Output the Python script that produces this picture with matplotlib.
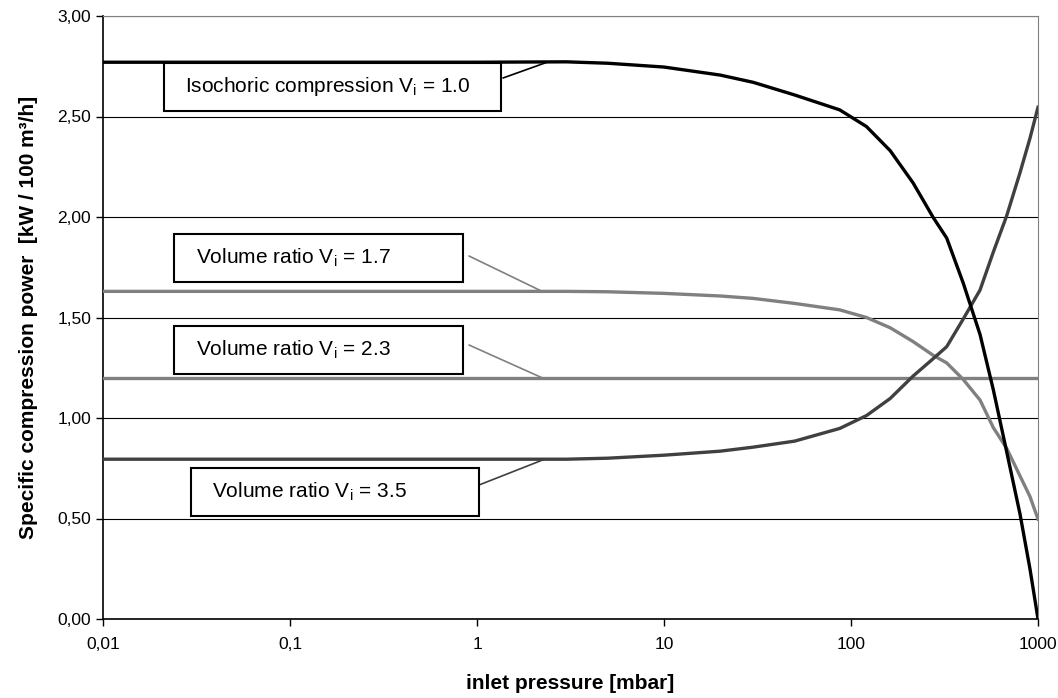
import matplotlib
matplotlib.use("Agg")
import matplotlib.pyplot as plt
from matplotlib.patches import Rectangle

plt.rcParams['font.family'] = ['Liberation Sans', 'DejaVu Sans']
plt.rcParams['mathtext.fontset'] = 'custom'
plt.rcParams['mathtext.rm'] = 'Liberation Sans'

# inlet pressure [mbar]
pressure = [0.01, 0.1, 1, 3, 5, 10, 20, 30, 50, 87, 121, 162, 215, 275, 325,
            398, 490, 577, 680, 801, 906, 1000]
# specific compression power [kW / 100 m3/h]
iso_10 = [2.77, 2.77, 2.77, 2.772, 2.765, 2.746, 2.706, 2.67, 2.607, 2.533,
          2.45, 2.33, 2.169, 1.998, 1.895, 1.672, 1.415, 1.14, 0.832, 0.523,
          0.249, 0.0]
vr_17 = [1.63, 1.63, 1.63, 1.63, 1.628, 1.62, 1.607, 1.595, 1.57, 1.538, 1.50,
         1.449, 1.38, 1.312, 1.274, 1.192, 1.089, 0.952, 0.849, 0.712, 0.609,
         0.497]
vr_23 = [1.20] * len(pressure)
vr_35 = [0.795, 0.795, 0.795, 0.795, 0.80, 0.815, 0.835, 0.855, 0.885, 0.948,
         1.012, 1.097, 1.209, 1.295, 1.355, 1.492, 1.637, 1.826, 2.006, 2.22,
         2.392, 2.546]

x_ticks = [0.01, 0.1, 1, 10, 100, 1000]
x_labels = ['0,01', '0,1', '1', '10', '100', '1000']
y_ticks = [0.0, 0.5, 1.0, 1.5, 2.0, 2.5, 3.0]
y_labels = ['0,00', '0,50', '1,00', '1,50', '2,00', '2,50', '3,00']

W, H = 1058, 698
fig = plt.figure(figsize=(W / 100, H / 100), dpi=100)
ax = fig.add_axes([103 / W, 1 - 619 / H, (1038 - 103) / W, (619 - 16) / H])

ax.plot(pressure, vr_23, color='#808080', lw=2.4, zorder=3)
ax.plot(pressure, vr_17, color='#808080', lw=2.4, zorder=3)
ax.plot(pressure, vr_35, color='#404040', lw=2.4, zorder=4)
ax.plot(pressure, iso_10, color='black', lw=2.4, zorder=5)

ax.set_xscale('log')
ax.set_xlim(0.01, 1000)
ax.set_ylim(0, 3)
ax.set_xticks(x_ticks)
ax.set_xticklabels(x_labels)
ax.minorticks_off()
ax.set_yticks(y_ticks)
ax.set_yticklabels(y_labels)
ax.tick_params(labelsize=12.5, length=5, width=1, direction='out')
ax.tick_params(axis='x', pad=8)
ax.yaxis.grid(True, color='black', lw=0.8)
for s in ['top', 'right']:
    ax.spines[s].set_color('#808080')
ax.spines['left'].set_linewidth(1.2)
ax.spines['bottom'].set_linewidth(1.2)

ax.set_xlabel('inlet pressure [mbar]', fontsize=15, fontweight='bold', labelpad=16)
ax.set_ylabel('Specific compression power  [kW / 100 m³/h]', fontsize=15,
              fontweight='bold', labelpad=14)

# label boxes: (left, top, right, bottom) in pixels, text x, connector start, target, colour
boxes = [
    ('Isochoric compression V$_\\mathrm{i}$ = 1.0', (164, 63, 501, 111), 185,
     (503, 78), (2.37, 2.77), 'black'),
    ('Volume ratio V$_\\mathrm{i}$ = 1.7', (174, 234, 463, 282), 196,
     (469, 256), (2.23, 1.63), '#808080'),
    ('Volume ratio V$_\\mathrm{i}$ = 2.3', (174, 326, 463, 374), 196,
     (469, 345), (2.23, 1.20), '#808080'),
    ('Volume ratio V$_\\mathrm{i}$ = 3.5', (191, 468, 479, 516), 212,
     (479, 485), (2.3, 0.795), '#404040'),
]
for label, (l, t, r, b), tx, start, target, col in boxes:
    fig.add_artist(Rectangle((l / W, 1 - b / H), (r - l) / W, (b - t) / H,
                             transform=fig.transFigure, facecolor='white',
                             edgecolor='black', lw=1.5, zorder=10))
    fig.text(tx / W, 1 - (t + b) / 2 / H, label, ha='left', va='center',
             fontsize=15, zorder=11)
    ax.annotate('', xy=target, xycoords='data',
                xytext=(start[0], H - start[1]), textcoords='figure pixels',
                arrowprops=dict(arrowstyle='-', color=col, lw=1.2,
                                shrinkA=0, shrinkB=0), zorder=9)

fig.savefig('out.png', dpi=100)
